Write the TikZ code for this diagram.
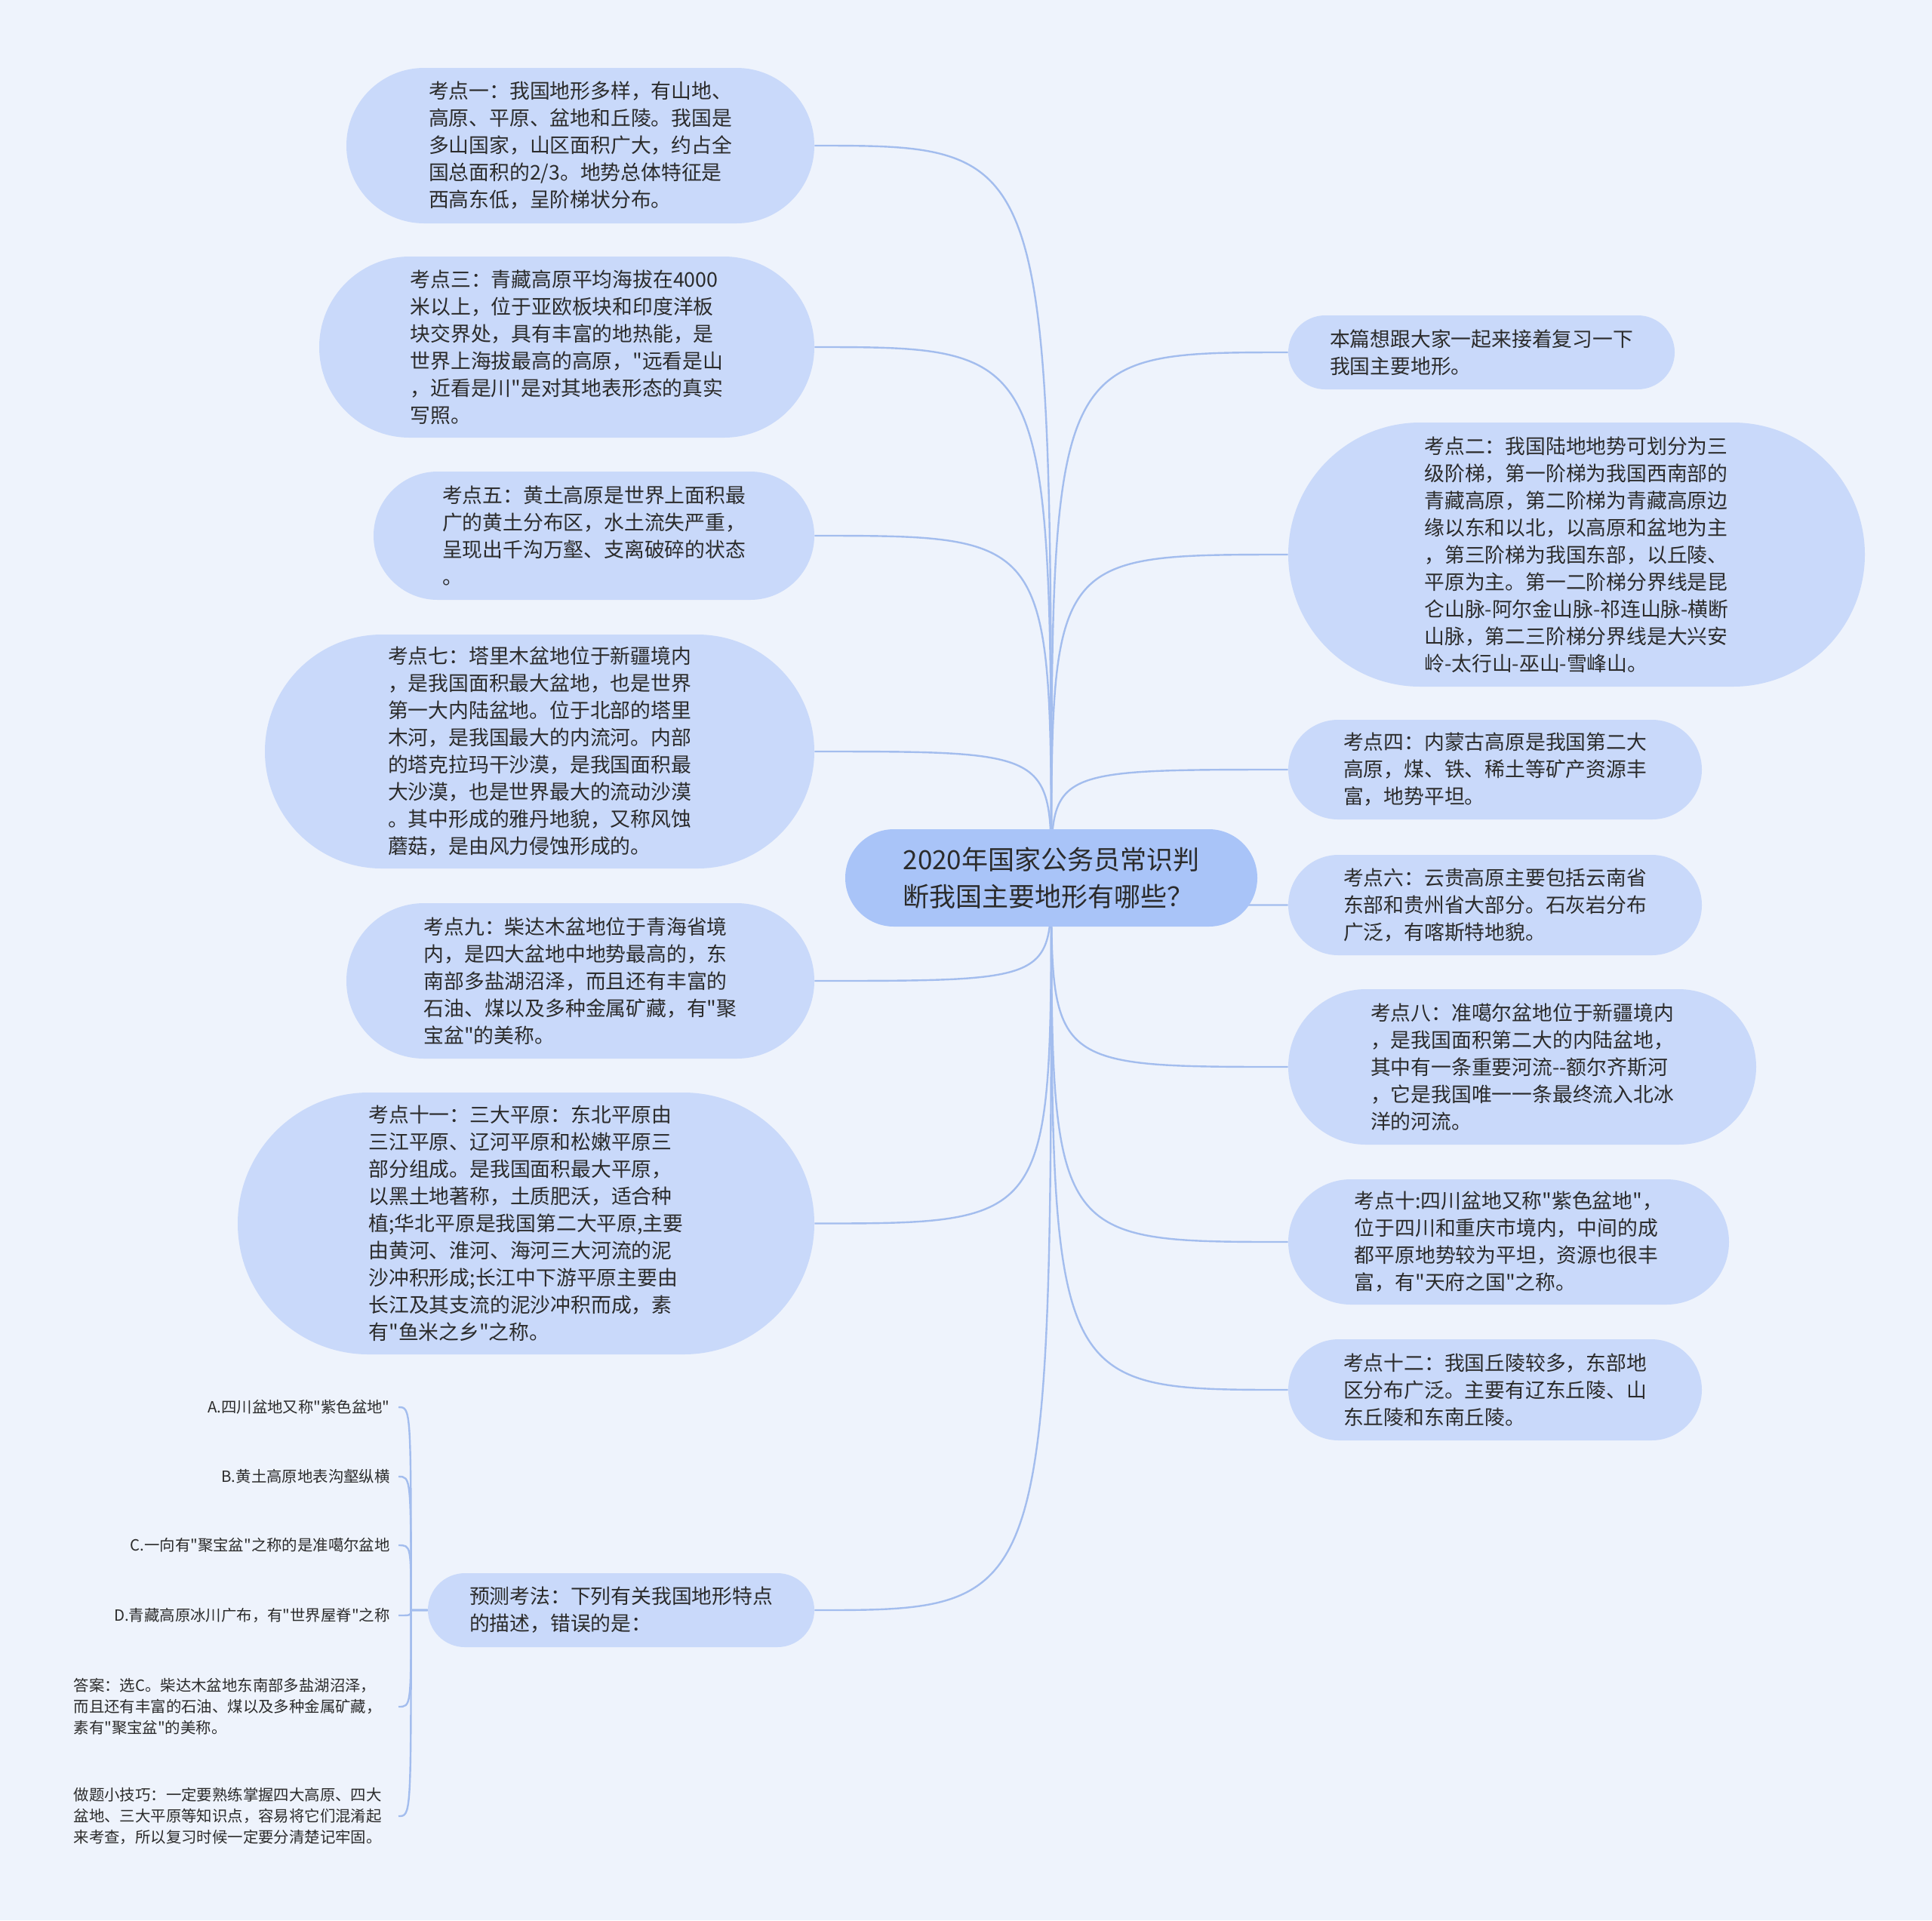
\documentclass[tikz,border=0pt]{standalone}
\usepackage{fontspec}
\newfontfamily\zhfont{Noto Sans CJK SC}
\usetikzlibrary{backgrounds}
\definecolor{bgcol}{HTML}{EEF3FC}
\definecolor{kdcol}{HTML}{C9D9FA}
\definecolor{rootcol}{HTML}{A9C4F8}
\definecolor{linkcol}{HTML}{A3BDEE}
\definecolor{txtcol}{HTML}{2B2B2B}

\begin{document}
\begin{tikzpicture}[x=1pt,y=-1pt,
	kd/.style 2 args={fill=kdcol,text=txtcol,font=\zhfont\fontsize{13.4}{18}\selectfont,align=left,inner sep=0pt,minimum width=#1pt,minimum height=#2pt,rounded corners=#2pt/2},
	root/.style={fill=rootcol,text=txtcol,font=\zhfont\fontsize{17.5}{24.5}\selectfont,align=left,inner sep=0pt,minimum width=273pt,minimum height=64.5pt,rounded corners=32.25pt},
	leaf/.style={text=txtcol,font=\zhfont\fontsize{10.2}{14}\selectfont,align=left,inner sep=0pt,inner xsep=5.5pt,anchor=east},
	link/.style={draw=linkcol,line width=1.2pt}]
	\useasboundingbox (0,0) rectangle (1280,1272.5);

	% centre
	\draw (696.5,581.75) node[root] (root) {2020年国家公务员常识判\\断我国主要地形有哪些？};

	% left side
	\draw (384.5,96.5) node[kd={310}{103}] (kd1) {考点一：我国地形多样，有山地、\\高原、平原、盆地和丘陵。我国是\\多山国家，山区面积广大，约占全\\国总面积的2/3。地势总体特征是\\西高东低，呈阶梯状分布。};
	\draw (375.5,230) node[kd={328}{120}] (kd3) {考点三：青藏高原平均海拔在4000\\米以上，位于亚欧板块和印度洋板\\块交界处，具有丰富的地热能，是\\世界上海拔最高的高原，"远看是山\\，近看是川"是对其地表形态的真实\\写照。};
	\draw (393.5,355) node[kd={292}{85}] (kd5) {考点五：黄土高原是世界上面积最\\广的黄土分布区，水土流失严重，\\呈现出千沟万壑、支离破碎的状态\\。};
	\draw (357.5,498) node[kd={364}{155}] (kd7) {考点七：塔里木盆地位于新疆境内\\，是我国面积最大盆地，也是世界\\第一大内陆盆地。位于北部的塔里\\木河，是我国最大的内流河。内部\\的塔克拉玛干沙漠，是我国面积最\\大沙漠，也是世界最大的流动沙漠\\。其中形成的雅丹地貌，又称风蚀\\蘑菇，是由风力侵蚀形成的。};
	\draw (384.5,650) node[kd={310}{103}] (kd9) {考点九：柴达木盆地位于青海省境\\内，是四大盆地中地势最高的，东\\南部多盐湖沼泽，而且还有丰富的\\石油、煤以及多种金属矿藏，有"聚\\宝盆"的美称。};
	\draw (348.5,810.75) node[kd={382}{173.5}] (kd11) {考点十一：三大平原：东北平原由\\三江平原、辽河平原和松嫩平原三\\部分组成。是我国面积最大平原，\\以黑土地著称，土质肥沃，适合种\\植;华北平原是我国第二大平原,主要\\由黄河、淮河、海河三大河流的泥\\沙冲积形成;长江中下游平原主要由\\长江及其支流的泥沙冲积而成，素\\有"鱼米之乡"之称。};
	\draw (411.5,1067) node[kd={256}{49}] (yc) {预测考法：下列有关我国地形特点\\的描述，错误的是：};

	% right side
	\draw (981.5,233.5) node[kd={256}{49}] (intro) {本篇想跟大家一起来接着复习一下\\我国主要地形。};
	\draw (1044.5,367.5) node[kd={382}{175}] (kd2) {考点二：我国陆地地势可划分为三\\级阶梯，第一阶梯为我国西南部的\\青藏高原，第二阶梯为青藏高原边\\缘以东和以北，以高原和盆地为主\\，第三阶梯为我国东部，以丘陵、\\平原为主。第一二阶梯分界线是昆\\仑山脉-阿尔金山脉-祁连山脉-横断\\山脉，第二三阶梯分界线是大兴安\\岭-太行山-巫山-雪峰山。};
	\draw (990.5,510) node[kd={274}{66}] (kd4) {考点四：内蒙古高原是我国第二大\\高原，煤、铁、稀土等矿产资源丰\\富，地势平坦。};
	\draw (990.5,599.75) node[kd={274}{66.5}] (kd6) {考点六：云贵高原主要包括云南省\\东部和贵州省大部分。石灰岩分布\\广泛，有喀斯特地貌。};
	\draw (1008.5,707) node[kd={310}{103}] (kd8) {考点八：准噶尔盆地位于新疆境内\\，是我国面积第二大的内陆盆地，\\其中有一条重要河流--额尔齐斯河\\，它是我国唯一一条最终流入北冰\\洋的河流。};
	\draw (999.5,823) node[kd={292}{83}] (kd10) {考点十:四川盆地又称"紫色盆地"，\\位于四川和重庆市境内，中间的成\\都平原地势较为平坦，资源也很丰\\富，有"天府之国"之称。};
	\draw (990.5,921) node[kd={274}{67}] (kd12) {考点十二：我国丘陵较多，东部地\\区分布广泛。主要有辽东丘陵、山\\东丘陵和东南丘陵。};

	% leaves of yc
	\draw (264,932.5) node[leaf] (la) {A.四川盆地又称"紫色盆地"};
	\draw (264,978.5) node[leaf] (lb) {B.黄土高原地表沟壑纵横};
	\draw (264,1024) node[leaf] (lc) {C.一向有"聚宝盆"之称的是准噶尔盆地};
	\draw (264,1070.5) node[leaf] (ld) {D.青藏高原冰川广布，有"世界屋脊"之称};
	\draw (264,1131) node[leaf,text width=209.5pt] (ans) {答案：选C。柴达木盆地东南部多盐湖沼泽，\\而且还有丰富的石油、煤以及多种金属矿藏，\\素有"聚宝盆"的美称。};
	\draw (264,1203.5) node[leaf,text width=209.5pt] (tip) {做题小技巧：一定要熟练掌握四大高原、四大\\盆地、三大平原等知识点，容易将它们混淆起\\来考查，所以复习时候一定要分清楚记牢固。};
	\coordinate (sp) at ([xshift=-11pt]yc.west);

	\begin{pgfonlayer}{background}
	\fill[bgcol] (0,0) rectangle (1280,1272.5);

	\draw[link] (root.center) .. controls (root.center |- kd1.east) .. (kd1.east);
	\draw[link] (root.center) .. controls (root.center |- kd3.east) .. (kd3.east);
	\draw[link] (root.center) .. controls (root.center |- kd5.east) .. (kd5.east);
	\draw[link] (root.center) .. controls (root.center |- kd7.east) .. (kd7.east);
	\draw[link] (root.center) .. controls (root.center |- kd9.east) .. (kd9.east);
	\draw[link] (root.center) .. controls (root.center |- kd11.east) .. (kd11.east);
	\draw[link] (root.center) .. controls (root.center |- yc.east) .. (yc.east);

	\draw[link] (root.center) .. controls (root.center |- intro.west) .. (intro.west);
	\draw[link] (root.center) .. controls (root.center |- kd2.west) .. (kd2.west);
	\draw[link] (root.center) .. controls (root.center |- kd4.west) .. (kd4.west);
	\draw[link] (root.center) .. controls (root.center |- kd6.west) .. (kd6.west);
	\draw[link] (root.center) .. controls (root.center |- kd8.west) .. (kd8.west);
	\draw[link] (root.center) .. controls (root.center |- kd10.west) .. (kd10.west);
	\draw[link] (root.center) .. controls (root.center |- kd12.west) .. (kd12.west);

	\draw[link] (yc.west) -- (sp) .. controls (sp |- la.east) .. (la.east);
	\draw[link] (yc.west) -- (sp) .. controls (sp |- lb.east) .. (lb.east);
	\draw[link] (yc.west) -- (sp) .. controls (sp |- lc.east) .. (lc.east);
	\draw[link] (yc.west) -- (sp) .. controls (sp |- ld.east) .. (ld.east);
	\draw[link] (yc.west) -- (sp) .. controls (sp |- ans.east) .. (ans.east);
	\draw[link] (yc.west) -- (sp) .. controls (sp |- tip.east) .. (tip.east);
	\end{pgfonlayer}
\end{tikzpicture}
\end{document}
